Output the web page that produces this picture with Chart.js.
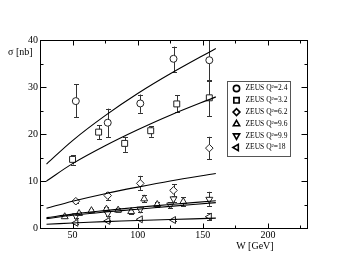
<!DOCTYPE html>
<html>
<head>
<meta charset="utf-8">
<script src="https://cdn.jsdelivr.net/npm/chart.js@4/dist/chart.umd.min.js"></script>
<style>
  html, body { margin: 0; padding: 0; background: #fff; }
  #wrap { width: 346px; height: 268px; }
</style>
</head>
<body>
<div id="wrap"><canvas id="sigmaChart" width="346" height="268"></canvas></div>
<script>
// ── data (W in GeV, sigma in nb)
const X_TICKS = [50, 100, 150, 200];
const Y_TICKS = [0, 10, 20, 30, 40];

const W_24  = [52.5, 77, 102, 127.5, 155];
const S_24  = [27.0, 22.4, 26.5, 36.0, 35.7];
const LO_24 = [23.6, 19.3, 24.5, 33.2, 31.3];
const HI_24 = [30.6, 25.4, 28.4, 38.6, 41.0];

const W_32  = [50, 70, 90, 110, 130, 155];
const S_32  = [14.6, 20.4, 18.0, 20.7, 26.4, 27.7];
const LO_32 = [13.5, 18.9, 16.2, 19.4, 24.7, 23.8];
const HI_32 = [15.5, 21.9, 19.4, 21.7, 28.3, 31.5];

const W_62  = [52.5, 77, 102, 127.5, 155];
const S_62  = [5.7, 6.9, 9.5, 8.0, 17.0];
const LO_62 = [5.3, 6.0, 8.1, 6.7, 14.6];
const HI_62 = [6.1, 7.7, 11.1, 9.3, 19.4];

const W_96  = [44, 55, 64.5, 76, 85, 95, 105, 115, 135];
const S_96  = [2.4, 3.1, 3.7, 4.0, 3.8, 3.5, 6.2, 5.0, 5.6];
const LO_96 = [2.1, 2.7, 3.3, 3.5, 3.4, 3.0, 5.5, 4.4, 4.7];
const HI_96 = [2.7, 3.5, 4.1, 4.5, 4.2, 4.0, 7.0, 5.6, 6.5];

const W_99  = [52.5, 77, 102, 125, 127.5, 155];
const S_99  = [2.6, 3.1, 4.0, 4.9, 6.2, 6.1];
const LO_99 = [2.2, 2.6, 3.5, 4.3, 5.5, 4.7];
const HI_99 = [3.0, 3.6, 4.5, 5.5, 6.9, 7.7];

const W_18  = [52.5, 77, 102, 127.5, 155];
const S_18  = [1.1, 1.5, 1.85, 1.7, 2.4];
const LO_18 = [0.9, 1.3, 1.6, 1.5, 1.7];
const HI_18 = [1.3, 1.7, 2.1, 1.9, 3.1];

// model curves
const CURVE_W    = [30, 50, 75, 100, 125, 160];
const CURVE_24   = [13.6, 18.6, 23.9, 28.6, 32.8, 38.2];
const CURVE_32   = [10.0, 13.7, 17.5, 20.9, 24.0, 27.9];
const CURVE_62   = [4.2, 5.7, 7.3, 8.7, 10.0, 11.6];
const CURVE_96   = [2.2, 2.95, 3.7, 4.4, 5.0, 5.8];
const CURVE_99   = [2.0, 2.7, 3.4, 4.0, 4.6, 5.4];
const CURVE_18   = [0.8, 1.07, 1.35, 1.6, 1.8, 2.1];

const SERIES = [
    { label: 'ZEUS Q²=2.4', w: W_24, s: S_24, lo: LO_24, hi: HI_24, style: 'circle',   rot: 0,   r: 3.5 },
    { label: 'ZEUS Q²=3.2', w: W_32, s: S_32, lo: LO_32, hi: HI_32, style: 'rect',     rot: 0,   r: 4.2 },
    { label: 'ZEUS Q²=6.2', w: W_62, s: S_62, lo: LO_62, hi: HI_62, style: 'rectRot',  rot: 0,   r: 3.8 },
    { label: 'ZEUS Q²=9.6', w: W_96, s: S_96, lo: LO_96, hi: HI_96, style: 'triangle', rot: 0,   r: 4 },
    { label: 'ZEUS Q²=9.9', w: W_99, s: S_99, lo: LO_99, hi: HI_99, style: 'triangle', rot: 180, r: 4 },
    { label: 'ZEUS Q²=18',  w: W_18, s: S_18, lo: LO_18, hi: HI_18, style: 'triangle', rot: -90, r: 4 }
];
const CURVES = [CURVE_24, CURVE_32, CURVE_62, CURVE_96, CURVE_99, CURVE_18];

const SERIF = "'Liberation Serif', 'DejaVu Serif', serif";
const INK = '#222';

function pts(xs, ys) { return xs.map(function(x, i) { return { x: x, y: ys[i] }; }); }

// ── datasets: curves first, then markers
var datasets = [];
CURVES.forEach(function(c) {
    datasets.push({ data: pts(CURVE_W, c), showLine: true, borderColor: '#000', borderWidth: 1.1,
        pointRadius: 0, tension: 0.35, fill: false });
});
SERIES.forEach(function(s) {
    datasets.push({ label: s.label, data: pts(s.w, s.s), showLine: false,
        pointStyle: s.style, rotation: s.rot, pointRadius: s.r, pointBorderWidth: 1,
        borderColor: INK, backgroundColor: '#fff', pointBackgroundColor: '#fff',
        errLo: s.lo, errHi: s.hi });
});

function drawMark(ctx, style, r, rot, x, y) {
    if (Chart.helpers && Chart.helpers.drawPoint) {
        Chart.helpers.drawPoint(ctx, { pointStyle: style, radius: r, rotation: rot, borderWidth: ctx.lineWidth }, x, y);
        return;
    }
    ctx.beginPath(); ctx.arc(x, y, r, 0, Math.PI * 2); ctx.fill(); ctx.stroke();
}

// error bars, drawn under the markers
const errorBars = {
    id: 'errorBars',
    beforeDatasetsDraw: function(chart) {
        var ctx = chart.ctx, xs = chart.scales.x, ys = chart.scales.y, a = chart.chartArea;
        ctx.save();
        ctx.beginPath(); ctx.rect(a.left, a.top, a.right - a.left, a.bottom - a.top); ctx.clip();
        ctx.strokeStyle = '#333'; ctx.lineWidth = 1;
        chart.data.datasets.forEach(function(ds) {
            if (!ds.errLo) return;
            ds.data.forEach(function(p, i) {
                var px = Math.round(xs.getPixelForValue(p.x)) + 0.5;
                var y1 = ys.getPixelForValue(ds.errLo[i]), y2 = ys.getPixelForValue(ds.errHi[i]);
                ctx.beginPath();
                ctx.moveTo(px, y1); ctx.lineTo(px, y2);
                ctx.moveTo(px - 2.5, Math.round(y1) + 0.5); ctx.lineTo(px + 2.5, Math.round(y1) + 0.5);
                ctx.moveTo(px - 2.5, Math.round(y2) + 0.5); ctx.lineTo(px + 2.5, Math.round(y2) + 0.5);
                ctx.stroke();
            });
        });
        ctx.restore();
    }
};

// frame, inward ticks, axis titles and the boxed legend
const frameAndLegend = {
    id: 'frameAndLegend',
    afterDraw: function(chart) {
        var ctx = chart.ctx, xs = chart.scales.x, ys = chart.scales.y, a = chart.chartArea;
        ctx.save();
        ctx.strokeStyle = '#000'; ctx.lineWidth = 1;
        var L = Math.round(a.left) + 0.5, R = Math.round(a.right) + 0.5,
            T = Math.round(a.top) + 0.5, B = Math.round(a.bottom) + 0.5;
        ctx.strokeRect(L, T, R - L, B - T);
        ctx.beginPath();
        for (var w = 50; w <= 225; w += 25) {
            var px = Math.round(xs.getPixelForValue(w)) + 0.5, len = (w % 50 === 0) ? 5 : 3;
            ctx.moveTo(px, B); ctx.lineTo(px, B - len);
            ctx.moveTo(px, T); ctx.lineTo(px, T + len);
        }
        for (var v = 5; v < 40; v += 5) {
            var py = Math.round(ys.getPixelForValue(v)) + 0.5, ln = (v % 10 === 0) ? 6 : 3;
            ctx.moveTo(L, py); ctx.lineTo(L + ln, py);
            ctx.moveTo(R, py); ctx.lineTo(R - ln, py);
        }
        ctx.stroke();

        ctx.fillStyle = '#000';
        ctx.font = '10px ' + SERIF;
        ctx.textBaseline = 'middle';
        ctx.textAlign = 'left';
        ctx.fillText('σ [nb]', a.left - 32, a.top + 12);
        ctx.textAlign = 'center';
        ctx.fillText('W [GeV]', xs.getPixelForValue(190), a.bottom + 18);

        // legend box
        var bx = 227.5, by = 81.5, bw = 63, bh = 75;
        ctx.strokeStyle = '#555';
        ctx.strokeRect(bx, by, bw, bh);
        ctx.font = '7.5px ' + SERIF;
        ctx.textAlign = 'left';
        SERIES.forEach(function(s, i) {
            var cy = by + 7 + i * 11.8;
            ctx.strokeStyle = '#000'; ctx.fillStyle = '#fff'; ctx.lineWidth = 1.6;
            drawMark(ctx, s.style, s.r * 0.9, s.rot, bx + 9, cy);
            ctx.fillStyle = '#000';
            ctx.fillText(s.label, bx + 18, cy);
        });
        ctx.restore();
    }
};

Chart.defaults.font.family = SERIF;
Chart.defaults.color = '#000';

new Chart(document.getElementById('sigmaChart').getContext('2d'), {
    type: 'scatter',
    data: { datasets: datasets },
    options: {
        responsive: false,
        animation: false,
        events: [],
        layout: { padding: { top: 40, right: 39, left: 0, bottom: 0 } },
        plugins: { legend: { display: false }, tooltip: { enabled: false } },
        scales: {
            x: {
                type: 'linear', min: 25, max: 230,
                grid: { display: false, drawTicks: false }, border: { display: false },
                afterBuildTicks: function(s) { s.ticks = X_TICKS.map(function(v) { return { value: v }; }); },
                afterFit: function(s) { s.height = 40; },
                ticks: { font: { size: 10, family: SERIF }, color: '#000', padding: 1, maxRotation: 0 }
            },
            y: {
                type: 'linear', min: 0, max: 40,
                grid: { display: false, drawTicks: false }, border: { display: false },
                afterBuildTicks: function(s) { s.ticks = Y_TICKS.map(function(v) { return { value: v }; }); },
                afterFit: function(s) { s.width = 40; },
                ticks: { font: { size: 10, family: SERIF }, color: '#000', padding: 2 }
            }
        }
    },
    plugins: [errorBars, frameAndLegend]
});
</script>
</body>
</html>
